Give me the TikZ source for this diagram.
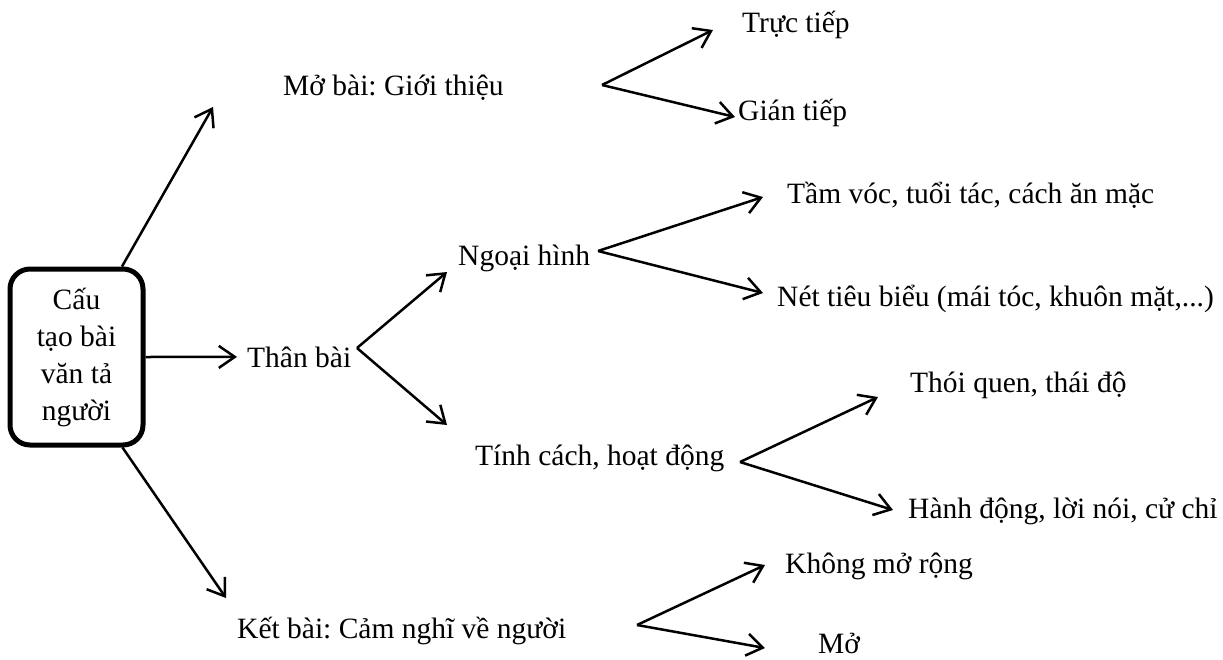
\documentclass[tikz,border=0pt]{standalone}
\usepackage{fontspec}
\setmainfont{Liberation Serif}
\usepackage{tikz}
\usetikzlibrary{arrows.meta,positioning,calc}
\frenchspacing
\tikzset{
  RB/.style={rectangle,rounded corners=20pt,draw,line width=5pt,
             minimum width=133pt,minimum height=176pt,inner sep=0pt,
             align=center,font=\fontsize{29.5}{37}\selectfont},
  lbl/.style={anchor=base west,inner sep=0pt,font=\fontsize{29.5}{35}\selectfont},
  arr/.style={-{Straight Barb[length=16pt,width=22pt]},line width=2.5pt}
}

\begin{document}
\begin{tikzpicture}[x=1pt,y=-1pt]
  \useasboundingbox (0,0) rectangle (1223,659);
  % root box
  \node[RB] (root) at (76.5,357) {Cấu\\tạo bài\\văn tả\\người};
  % level 1
  \node[lbl] (mb) at (283,95) {Mở bài: Giới thiệu};
  \node[lbl] (tb) at (247,367) {Thân bài};
  \node[lbl] (kb) at (237,638) {Kết bài: Cảm nghĩ về người};
  % level 2
  \node[lbl] (tt) at (742,32) {Trực tiếp};
  \node[lbl] (gt) at (738,120) {Gián tiếp};
  \node[lbl] (nh) at (458,265) {Ngoại hình};
  \node[lbl] (tc) at (475,465) {Tính cách, hoạt động};
  \node[lbl] (kmr) at (785,573) {Không mở rộng};
  \node[lbl] (mo) at (818,653) {Mở};
  % level 3
  \node[lbl] (tv) at (787,203) {Tầm vóc, tuổi tác, cách ăn mặc};
  \node[lbl] (nt) at (777,306) {Nét tiêu biểu (mái tóc, khuôn mặt,...)};
  \node[lbl] (tq) at (910,392) {Thói quen, thái độ};
  \node[lbl] (hd) at (908,518) {Hành động, lời nói, cử chỉ};
  % fork points and tips
  \coordinate (mb-up) at (213,107);
  \coordinate (kb-up) at (226,598);
  \coordinate (mb-v) at (602,85);
  \coordinate (tt-t) at (713,30);
  \coordinate (gt-t) at (735,117);
  \coordinate (tb-v) at (357,348);
  \coordinate (nh-t) at (447,272);
  \coordinate (tc-t) at (447,425);
  \coordinate (nh-v) at (598,251);
  \coordinate (tv-t) at (763,197);
  \coordinate (nt-t) at (763,293);
  \coordinate (tc-v) at (740,462);
  \coordinate (tq-t) at (878,397);
  \coordinate (hd-t) at (893,510);
  \coordinate (kb-v) at (637,625);
  \coordinate (kmr-t) at (765,565);
  \coordinate (mo-t) at (765,648);
  % connectors
  \draw[arr] ([xshift=45.5pt]root.north) -- (mb-up);
  \draw[arr] (root.east) -- ([xshift=-10pt]tb.west);
  \draw[arr] ([xshift=46pt]root.south) -- (kb-up);
  \draw[arr] (mb-v) -- (tt-t);
  \draw[arr] (mb-v) -- (gt-t);
  \draw[arr] (tb-v) -- (nh-t);
  \draw[arr] (tb-v) -- (tc-t);
  \draw[arr] (nh-v) -- (tv-t);
  \draw[arr] (nh-v) -- (nt-t);
  \draw[arr] (tc-v) -- (tq-t);
  \draw[arr] (tc-v) -- (hd-t);
  \draw[arr] (kb-v) -- (kmr-t);
  \draw[arr] (kb-v) -- (mo-t);
\end{tikzpicture}
\end{document}
